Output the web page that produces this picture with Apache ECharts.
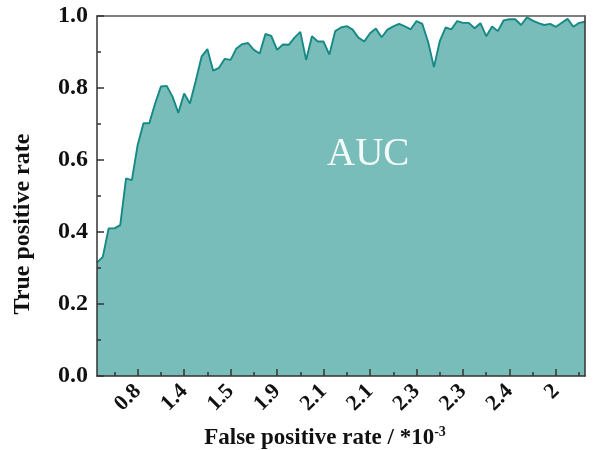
<!DOCTYPE html>
<html>
<head>
<meta charset="utf-8">
<script src="https://cdn.jsdelivr.net/npm/echarts@6/dist/echarts.min.js"></script>
<style>
html,body{margin:0;padding:0;background:#fff;}
#chart{width:599px;height:450px;}
</style>
</head>
<body>
<div id="chart"></div>
<script>
// True positive rate values (one per sample along the x axis)
var tprValues = [
  0.315, 0.331, 0.410, 0.410, 0.419, 0.549, 0.544, 0.642, 0.702, 0.702,
  0.757, 0.804, 0.806, 0.776, 0.731, 0.785, 0.757, 0.820, 0.887, 0.908,
  0.848, 0.856, 0.881, 0.878, 0.910, 0.922, 0.925, 0.906, 0.896, 0.950,
  0.945, 0.906, 0.921, 0.920, 0.940, 0.956, 0.878, 0.944, 0.929, 0.929,
  0.893, 0.958, 0.968, 0.972, 0.962, 0.940, 0.929, 0.952, 0.965, 0.941,
  0.962, 0.971, 0.978, 0.971, 0.963, 0.986, 0.978, 0.928, 0.858, 0.930,
  0.968, 0.963, 0.986, 0.981, 0.981, 0.966, 0.980, 0.944, 0.971, 0.958,
  0.988, 0.991, 0.991, 0.975, 0.996, 0.987, 0.980, 0.975, 0.978, 0.970,
  0.981, 0.992, 0.970, 0.981, 0.984
];
// False positive rate tick labels (*10^-3), shown every 8th sample starting at index 7
var tickLabels = ['0.8', '1.4', '1.5', '1.9', '2.1', '2.1', '2.3', '2.3', '2.4', '2'];
var yTicks = { min: 0, max: 1, interval: 0.2 };

var categories = tprValues.map(function (v, i) {
  return (i % 8 === 7) ? tickLabels[(i - 7) / 8] : '';
});

var FONT = '"Liberation Serif", "Times New Roman", serif';
var AXIS_COLOR = '#333';

var chart = echarts.init(document.getElementById('chart'));
chart.setOption({
  animation: false,
  backgroundColor: '#fff',
  grid: { left: 97, right: 14, top: 16, bottom: 74, containLabel: false, outerBoundsMode: 'none' },
  xAxis: [
    {
      type: 'category',
      data: categories,
      boundaryGap: false,
      position: 'bottom',
      z: 5,
      axisLine: { show: true, lineStyle: { color: AXIS_COLOR, width: 1.5 } },
      axisTick: {
        show: true, inside: true, length: 4,
        interval: function (i) { return i % 4 === 3; },
        lineStyle: { color: AXIS_COLOR, width: 1.5 }
      },
      axisLabel: {
        show: true, rotate: 45, margin: 12,
        interval: function (i) { return i % 8 === 7; },
        fontFamily: FONT, fontWeight: 'bold', fontSize: 22, color: '#111'
      },
      splitLine: { show: false },
      name: 'False positive rate / *10{sup|-3}',
      nameLocation: 'middle',
      nameGap: 49,
      nameTextStyle: {
        fontFamily: FONT, fontWeight: 'bold', fontSize: 23, color: '#111',
        padding: [0, 32, 0, 0],
        rich: {
          sup: { fontFamily: FONT, fontWeight: 'bold', fontSize: 14, color: '#111', verticalAlign: 'top', padding: [0, 0, 12, 0] }
        }
      }
    },
    {
      type: 'category',
      data: categories,
      boundaryGap: false,
      position: 'bottom',
      z: 5,
      axisLine: { show: false },
      axisTick: {
        show: true, inside: true, length: 7,
        interval: function (i) { return i % 8 === 7; },
        lineStyle: { color: AXIS_COLOR, width: 1.5 }
      },
      axisLabel: { show: false },
      splitLine: { show: false }
    },
    {
      type: 'category',
      data: categories,
      boundaryGap: false,
      position: 'top',
      z: 5,
      axisLine: { show: true, lineStyle: { color: '#555', width: 1.5 } },
      axisTick: { show: false },
      axisLabel: { show: false },
      splitLine: { show: false }
    }
  ],
  yAxis: [
    {
      type: 'value',
      min: yTicks.min, max: yTicks.max, interval: yTicks.interval,
      position: 'left',
      z: 5,
      axisLine: { show: true, lineStyle: { color: AXIS_COLOR, width: 1.5 } },
      axisTick: { show: true, inside: true, length: 7, lineStyle: { color: AXIS_COLOR, width: 1.5 } },
      minorTick: { show: true, splitNumber: 2, length: 4, lineStyle: { color: AXIS_COLOR, width: 1.5 } },
      axisLabel: {
        margin: 9,
        formatter: function (v) { return v.toFixed(1); },
        fontFamily: FONT, fontWeight: 'bold', fontSize: 24, color: '#111'
      },
      splitLine: { show: false },
      name: 'True positive rate',
      nameLocation: 'middle',
      nameGap: 62,
      nameTextStyle: {
        fontFamily: FONT, fontWeight: 'bold', fontSize: 24, color: '#111',
        padding: [0, 56, 0, 0]
      }
    },
    {
      type: 'value',
      min: yTicks.min, max: yTicks.max, interval: yTicks.interval,
      position: 'right',
      z: 5,
      axisLine: { show: true, lineStyle: { color: AXIS_COLOR, width: 1.5 } },
      axisTick: { show: false },
      axisLabel: { show: false },
      splitLine: { show: false }
    }
  ],
  series: [
    {
      type: 'line',
      xAxisIndex: 0,
      yAxisIndex: 0,
      data: tprValues,
      showSymbol: false,
      symbol: 'none',
      lineStyle: { color: '#178884', width: 1.9 },
      areaStyle: { color: '#78bdb9', opacity: 1 },
      z: 1
    }
  ],
  graphic: [
    {
      type: 'text',
      left: 327,
      top: 135,
      z: 10,
      style: {
        text: 'AUC',
        fill: '#f3fafa',
        font: '39px ' + FONT
      }
    }
  ]
});
</script>
</body>
</html>
